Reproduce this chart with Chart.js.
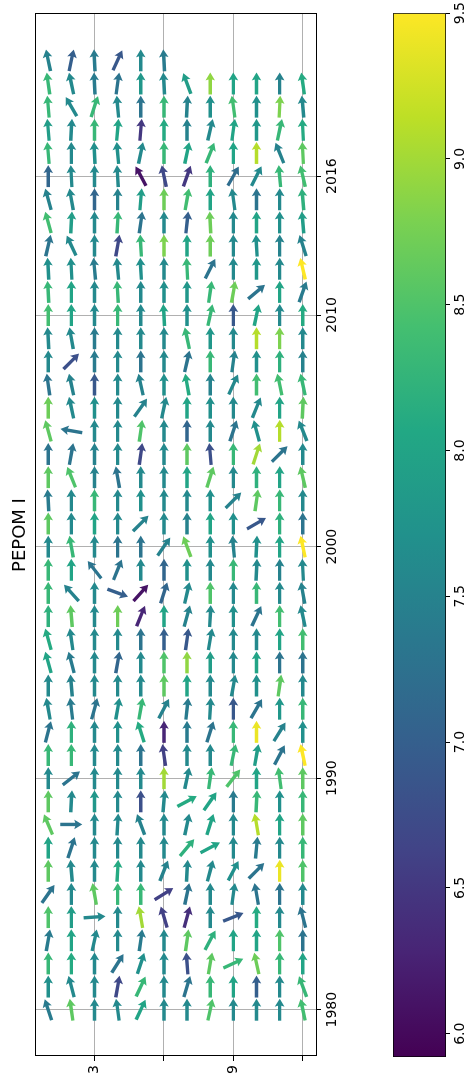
<!DOCTYPE html>
<html>
<head>
<meta charset="utf-8">
<script src="https://cdn.jsdelivr.net/npm/chart.js@4"></script>
<style>
  html, body { margin: 0; padding: 0; background: #fff; overflow: hidden; }
  #fig {
    position: absolute; left: 0; top: 0; width: 1077px; height: 467px;
    transform-origin: 0 0; transform: translateY(1077px) rotate(-90deg);
    background: #fff;
  }
  #main { position: absolute; left: 0; top: 0; }
  #cbar { position: absolute; left: 0; top: 370px; }
</style>
</head>
<body>
<div id="fig">
  <canvas id="main" width="1077" height="370"></canvas>
  <canvas id="cbar" width="1077" height="97"></canvas>
</div>
<script>
const years = [1980, 1981, 1982, 1983, 1984, 1985, 1986, 1987, 1988, 1989,
  1990, 1991, 1992, 1993, 1994, 1995, 1996, 1997, 1998, 1999,
  2000, 2001, 2002, 2003, 2004, 2005, 2006, 2007, 2008, 2009,
  2010, 2011, 2012, 2013, 2014, 2015, 2016, 2017, 2018, 2019,
  2020, 2021];
const months = [1, 2, 3, 4, 5, 6, 7, 8, 9, 10, 11, 12];

// arrow direction, degrees counter-clockwise from east, one row per year
const arrowAngle = [
  [18, 8, 0, 8, -25, 0, 0, -12, 0, 0, 0, 12],        // 1980
  [0, 15, 0, -10, -25, 0, -17, 0, 0, 0, 0, 20],      // 1981
  [0, 0, 0, -32, -18, 0, 4, -10, -65, 12, 0, 0],     // 1982
  [-10, 0, -12, 0, -8, 0, -8, -28, 0, 0, 0, 0],      // 1983
  [0, 0, -86, 0, 10, 17, -15, 0, -68, 0, 0, 15],     // 1984
  [-35, 0, 10, 0, 0, -58, -12, 0, -8, 10, 0, 0],     // 1985
  [0, 5, 0, -3, 0, -22, -3, -15, -28, -45, 0, 0],    // 1986
  [0, -18, 0, 0, 0, 0, -40, -62, 0, -5, 0, 0],       // 1987
  [23, -90, 0, -3, 20, 0, -12, -18, 0, 10, 0, 0],    // 1988
  [0, -3, 0, 0, 0, -5, -62, -35, 0, -3, 0, 0],       // 1989
  [0, -52, 0, 0, 0, 0, -12, -8, -38, 0, 8, 0],       // 1990
  [0, 0, 0, 0, 0, 8, 0, 0, -12, -10, -28, 12],       // 1991
  [-15, 0, 0, 0, 18, 0, 0, -18, 0, 0, -32, 0],       // 1992
  [10, 7, -15, -10, -10, -28, -6, -3, 0, -30, 0, 0], // 1993
  [0, 5, 0, 0, 0, 0, 0, 0, -10, 0, -8, 0],           // 1994
  [15, 15, 0, -10, 0, 0, 0, 0, 0, 0, 0, 0],          // 1995
  [15, 8, 0, 0, 0, 0, -8, -10, 0, 0, 0, 0],          // 1996
  [0, 5, 0, 0, -22, 0, -15, -3, 0, -25, 0, 12],      // 1997
  [0, 42, 0, -110, -42, -18, -13, 0, 0, 0, 0, 10],   // 1998
  [0, 0, 38, -22, 0, 0, 0, 0, 0, -3, 0, 3],          // 1999
  [0, 10, 0, 0, 0, -35, 20, 0, 5, -3, 0, 12],        // 2000
  [0, 0, 0, 0, -45, 0, 0, 0, 0, -60, 0, 0],          // 2001
  [3, 0, 0, 0, 0, 0, 0, 0, -45, -8, 0, 0],           // 2002
  [0, 22, 0, 10, 0, 0, 0, -18, 0, 0, 0, 13],         // 2003
  [0, -10, 0, 0, -8, 0, 0, 5, 0, -18, -45, 0],       // 2004
  [15, 80, 0, 0, -8, 0, 0, 0, -18, 15, 0, 22],       // 2005
  [0, 12, 0, 0, -35, -12, 0, 0, 0, -22, 0, -3],      // 2006
  [8, 12, 0, 0, 12, 0, 10, 0, -25, 0, 12, 12],       // 2007
  [0, -45, 0, 0, 0, 0, -13, 0, -8, 0, 0, 0],         // 2008
  [3, 10, 0, 0, 0, 0, 12, 0, 0, 0, 0, 0],            // 2009
  [0, 0, 0, 0, 0, 3, 0, -12, 0, -12, 0, 0],          // 2010
  [3, 0, 0, 3, 0, 0, 0, -8, -10, -50, 0, -20],       // 2011
  [3, 3, 5, 5, 3, 0, 3, -27, 0, 0, 0, 13],           // 2012
  [-13, 25, 0, -10, 3, 0, 0, 0, 0, 3, 0, 17],        // 2013
  [15, -3, 0, -3, -8, 0, -6, 3, 0, 0, 0, 5],         // 2014
  [15, 10, 0, 0, -5, 0, -10, 0, 8, 0, 0, 5],         // 2015
  [0, 3, 0, 3, 28, 12, -20, 0, -30, -27, 5, 13],     // 2016
  [5, 0, 3, 5, -12, 0, -12, -22, 0, 0, 22, 3],       // 2017
  [5, -3, 0, -5, -5, 0, 0, -13, -8, 0, -12, 3],      // 2018
  [5, 30, -18, 5, 0, 0, -3, 0, 8, 0, -3, 5],         // 2019
  [8, 12, 3, -8, 0, 3, 20, 0, 0, 0, 0, 8],           // 2020
  [12, -12, 3, -25, 0, 3]                            // 2021
];

// colour value of each arrow, same layout
const arrowValue = [
  [7.4, 8.6, 7.6, 7.6, 8.0, 7.6, 7.6, 8.5, 7.6, 7.6, 7.6, 8.4], // 1980
  [7.7, 7.6, 7.6, 6.7, 8.3, 7.6, 7.3, 8.3, 8.0, 7.0, 7.6, 8.3], // 1981
  [8.3, 8.1, 7.6, 7.3, 7.7, 7.6, 6.8, 8.6, 8.3, 8.7, 8.3, 8.0], // 1982
  [7.4, 8.0, 7.6, 7.6, 7.4, 7.6, 8.6, 8.2, 8.0, 8.0, 8.5, 7.3], // 1983
  [8.5, 7.9, 7.6, 7.6, 9.0, 6.6, 6.4, 7.6, 6.9, 8.1, 7.6, 7.3], // 1984
  [7.3, 7.6, 8.6, 8.3, 8.3, 6.6, 7.3, 7.6, 7.6, 7.3, 7.3, 7.6], // 1985
  [8.6, 7.6, 7.6, 8.1, 7.6, 7.5, 7.6, 7.6, 7.7, 7.3, 9.4, 8.5], // 1986
  [8.0, 7.3, 7.6, 7.6, 7.6, 7.6, 8.2, 8.0, 7.6, 7.4, 7.6, 8.3], // 1987
  [8.6, 7.3, 7.6, 7.6, 7.5, 7.6, 7.6, 8.0, 7.6, 9.1, 8.0, 8.6], // 1988
  [8.6, 7.6, 7.8, 7.6, 6.8, 7.6, 8.1, 8.0, 7.4, 8.3, 7.7, 8.3], // 1989
  [7.6, 7.3, 7.6, 7.6, 7.6, 9.0, 7.6, 8.3, 8.5, 8.0, 8.4, 8.6], // 1990
  [8.3, 8.3, 7.6, 7.6, 7.3, 6.6, 7.6, 7.6, 8.3, 7.9, 7.3, 9.5], // 1991
  [7.3, 8.2, 7.6, 7.7, 8.1, 6.3, 7.4, 7.3, 8.3, 9.4, 7.5, 7.7], // 1992
  [7.6, 7.4, 7.3, 7.7, 8.3, 7.5, 7.4, 7.6, 6.9, 7.3, 7.8, 8.3], // 1993
  [7.6, 7.5, 7.6, 7.6, 7.6, 8.6, 8.0, 7.6, 7.6, 7.7, 8.6, 7.6], // 1994
  [8.0, 7.4, 7.6, 7.1, 7.6, 8.5, 8.9, 7.9, 7.6, 8.0, 7.3, 7.3], // 1995
  [8.1, 7.6, 7.6, 7.6, 7.3, 7.0, 6.9, 7.6, 7.6, 7.6, 8.0, 8.4], // 1996
  [8.2, 8.6, 7.6, 8.7, 6.3, 8.0, 7.5, 7.6, 7.7, 7.3, 8.4, 7.6], // 1997
  [8.3, 7.5, 7.6, 7.0, 6.1, 7.1, 7.6, 8.5, 7.6, 8.3, 7.6, 7.5], // 1998
  [8.3, 8.0, 7.3, 7.3, 7.6, 7.1, 7.7, 7.6, 8.3, 7.6, 7.5, 7.6], // 1999
  [7.6, 8.3, 7.6, 7.3, 7.3, 7.5, 8.7, 7.7, 7.5, 7.7, 8.0, 9.5], // 2000
  [8.6, 7.6, 8.0, 7.6, 7.5, 7.6, 7.5, 8.0, 7.7, 6.9, 8.2, 7.3], // 2001
  [7.4, 7.6, 8.3, 7.6, 7.7, 7.6, 7.6, 7.7, 7.5, 8.6, 8.3, 7.6], // 2002
  [8.6, 8.5, 7.5, 7.3, 7.6, 7.6, 8.0, 8.6, 7.6, 8.2, 8.0, 8.6], // 2003
  [7.3, 7.3, 7.5, 7.6, 6.7, 7.6, 8.6, 6.8, 8.3, 9.0, 7.3, 7.6], // 2004
  [8.6, 7.3, 7.6, 7.6, 8.5, 7.6, 7.1, 7.6, 7.3, 7.7, 9.1, 7.6], // 2005
  [8.7, 7.6, 7.7, 7.6, 7.5, 7.6, 8.0, 7.7, 7.6, 7.6, 8.0, 8.6], // 2006
  [7.3, 7.5, 6.9, 7.6, 7.5, 7.7, 8.1, 7.5, 7.6, 8.4, 8.4, 8.3], // 2007
  [7.6, 6.8, 7.4, 7.6, 7.3, 7.6, 7.3, 8.3, 7.5, 7.7, 8.2, 7.5], // 2008
  [7.6, 7.6, 7.4, 7.6, 7.6, 7.6, 8.3, 7.8, 7.6, 9.1, 8.8, 7.6], // 2009
  [8.4, 8.0, 7.6, 8.3, 7.6, 8.0, 7.7, 8.3, 6.9, 8.0, 7.6, 8.1], // 2010
  [8.3, 8.0, 7.6, 8.3, 7.6, 7.7, 7.8, 8.3, 8.7, 7.3, 8.0, 7.4], // 2011
  [7.7, 7.7, 7.4, 7.6, 7.7, 7.6, 8.3, 7.3, 7.6, 7.8, 7.6, 9.5], // 2012
  [7.3, 7.6, 7.6, 6.7, 8.3, 8.8, 8.0, 8.7, 7.6, 7.7, 7.5, 7.5], // 2013
  [8.4, 7.9, 7.6, 8.3, 7.3, 7.6, 7.0, 8.7, 7.6, 8.0, 7.7, 7.9], // 2014
  [7.5, 7.6, 7.1, 7.5, 7.9, 8.7, 8.4, 8.0, 7.6, 7.3, 7.6, 8.2], // 2015
  [7.1, 7.6, 7.6, 7.6, 6.1, 6.7, 6.5, 8.2, 7.2, 7.6, 8.3, 8.4], // 2016
  [8.3, 7.6, 7.7, 7.7, 7.6, 8.3, 8.0, 8.3, 8.0, 9.1, 7.5, 8.6], // 2017
  [7.9, 7.6, 8.3, 8.0, 6.5, 8.1, 7.5, 7.6, 8.0, 7.8, 8.3, 8.1], // 2018
  [8.3, 7.6, 8.3, 7.6, 7.3, 8.3, 7.5, 7.7, 8.4, 7.7, 8.8, 7.6], // 2019
  [8.3, 7.6, 7.4, 7.3, 7.8, 7.6, 7.9, 8.9, 8.0, 8.0, 7.5, 8.1], // 2020
  [7.5, 7.0, 7.4, 6.9, 7.6, 7.4]                                // 2021
];

const yearTicks = [1980, 1990, 2000, 2010, 2016];
const monthTicks = [3, 6, 9, 12];
const monthTickLabels = ['3', '', '9', ''];
const cbTicks = [6.0, 6.5, 7.0, 7.5, 8.0, 8.5, 9.0, 9.5];
const cbMin = 5.92;
const cbMax = 9.5;

const viridis = ['#440154', '#482475', '#414487', '#355f8d', '#2a788e', '#21918c',
  '#22a884', '#44bf70', '#7ad151', '#bddf26', '#fde725'];

function hexRgb(h) {
  return [parseInt(h.slice(1, 3), 16), parseInt(h.slice(3, 5), 16), parseInt(h.slice(5, 7), 16)];
}

function colorFor(v) {
  let t = (v - cbMin) / (cbMax - cbMin);
  t = Math.max(0, Math.min(1, t)) * (viridis.length - 1);
  const i = Math.min(Math.floor(t), viridis.length - 2);
  const f = t - i;
  const a = hexRgb(viridis[i]), b = hexRgb(viridis[i + 1]);
  const c = a.map((x, k) => Math.round(x + (b[k] - x) * f));
  return 'rgb(' + c.join(',') + ')';
}

const points = [];
years.forEach((yr, i) => {
  arrowAngle[i].forEach((ang, j) => {
    points.push({ x: yr, y: months[j], ang: ang, val: arrowValue[i][j] });
  });
});

function drawArrow(ctx, cx, cy, angDeg, color) {
  const len = 22, sw = 1.7, hw = 4.8, hl = 8, hal = 7;
  const a = angDeg * Math.PI / 180;
  const ux = Math.cos(a), uy = -Math.sin(a);
  const nx = -uy, ny = ux;
  const tx = cx - ux * len / 2, ty = cy - uy * len / 2;
  const pt = (d, w) => [tx + ux * d + nx * w, ty + uy * d + ny * w];
  const poly = [pt(0, sw), pt(len - hal, sw), pt(len - hl, hw), pt(len, 0),
    pt(len - hl, -hw), pt(len - hal, -sw), pt(0, -sw)];
  ctx.beginPath();
  poly.forEach((p, k) => k ? ctx.lineTo(p[0], p[1]) : ctx.moveTo(p[0], p[1]));
  ctx.closePath();
  ctx.fillStyle = color;
  ctx.fill();
}

const quiverPlugin = {
  id: 'quiver',
  afterDatasetsDraw(chart) {
    const { ctx, chartArea, scales } = chart;
    ctx.save();
    ctx.beginPath();
    ctx.rect(chartArea.left, chartArea.top, chartArea.right - chartArea.left, chartArea.bottom - chartArea.top);
    ctx.clip();
    chart.data.datasets[0].data.forEach(p => {
      drawArrow(ctx, scales.x.getPixelForValue(p.x), scales.y.getPixelForValue(p.y), p.ang, colorFor(p.val));
    });
    ctx.restore();
    ctx.save();
    ctx.strokeStyle = '#000';
    ctx.lineWidth = 1;
    ctx.strokeRect(Math.round(chartArea.left) + 0.5, Math.round(chartArea.top) + 0.5,
      Math.round(chartArea.right - chartArea.left), Math.round(chartArea.bottom - chartArea.top));
    ctx.restore();
  }
};

const tickFont = { family: 'DejaVu Sans', size: 14 };

new Chart(document.getElementById('main'), {
  type: 'scatter',
  data: { datasets: [{ data: points, pointRadius: 0, pointHoverRadius: 0 }] },
  options: {
    responsive: false,
    animation: false,
    events: [],
    layout: { padding: { left: 0, right: 14, top: 0, bottom: 0 } },
    plugins: {
      legend: { display: false },
      tooltip: { enabled: false },
      title: {
        display: true,
        fullSize: false,
        text: 'PEPOM I',
        color: '#000',
        font: { family: 'DejaVu Sans', size: 18, weight: 'normal' },
        padding: { top: 10, bottom: 3.4 }
      }
    },
    scales: {
      x: {
        type: 'linear', min: 1978, max: 2023,
        afterBuildTicks: s => { s.ticks = yearTicks.map(v => ({ value: v })); },
        afterFit: s => { s.height = 54; },
        ticks: { color: '#000', font: tickFont, padding: 3, maxRotation: 0, autoSkip: false, callback: v => String(v) },
        grid: { color: '#b0b0b0', lineWidth: 1, tickLength: 5, tickColor: '#000' },
        border: { display: false }
      },
      y: {
        type: 'linear', reverse: true, min: 0.43, max: 12.57,
        afterBuildTicks: s => { s.ticks = monthTicks.map(v => ({ value: v })); },
        afterFit: s => { s.width = 21; },
        ticks: { color: '#000', font: tickFont, padding: 4, autoSkip: false,
          callback: (v) => monthTickLabels[monthTicks.indexOf(v)] },
        grid: { color: '#b0b0b0', lineWidth: 1, tickLength: 5, tickColor: '#000' },
        border: { display: false }
      }
    }
  },
  plugins: [quiverPlugin]
});

new Chart(document.getElementById('cbar'), {
  type: 'bar',
  data: {
    labels: [''],
    datasets: [{
      data: [[cbMin, cbMax]],
      backgroundColor: (c) => {
        const chart = c.chart;
        if (!chart.chartArea) return '#21918c';
        const xs = chart.scales.x;
        const g = chart.ctx.createLinearGradient(xs.getPixelForValue(cbMin), 0, xs.getPixelForValue(cbMax), 0);
        viridis.forEach((col, k) => g.addColorStop(k / (viridis.length - 1), col));
        return g;
      },
      borderColor: '#000',
      borderWidth: 1,
      borderSkipped: false,
      barPercentage: 1,
      categoryPercentage: 1
    }]
  },
  options: {
    indexAxis: 'y',
    responsive: false,
    animation: false,
    events: [],
    layout: { padding: { left: 20, right: 13, top: 23, bottom: 0 } },
    plugins: { legend: { display: false }, tooltip: { enabled: false } },
    scales: {
      x: {
        type: 'linear', min: cbMin, max: cbMax,
        afterBuildTicks: s => { s.ticks = cbTicks.map(v => ({ value: v })); },
        afterFit: s => { s.height = 21; },
        ticks: { color: '#000', font: tickFont, padding: 2, maxRotation: 0, autoSkip: false, callback: v => v.toFixed(1) },
        grid: { drawOnChartArea: false, tickLength: 4, tickColor: '#000' },
        border: { display: false }
      },
      y: { display: false }
    }
  }
});
</script>
</body>
</html>
